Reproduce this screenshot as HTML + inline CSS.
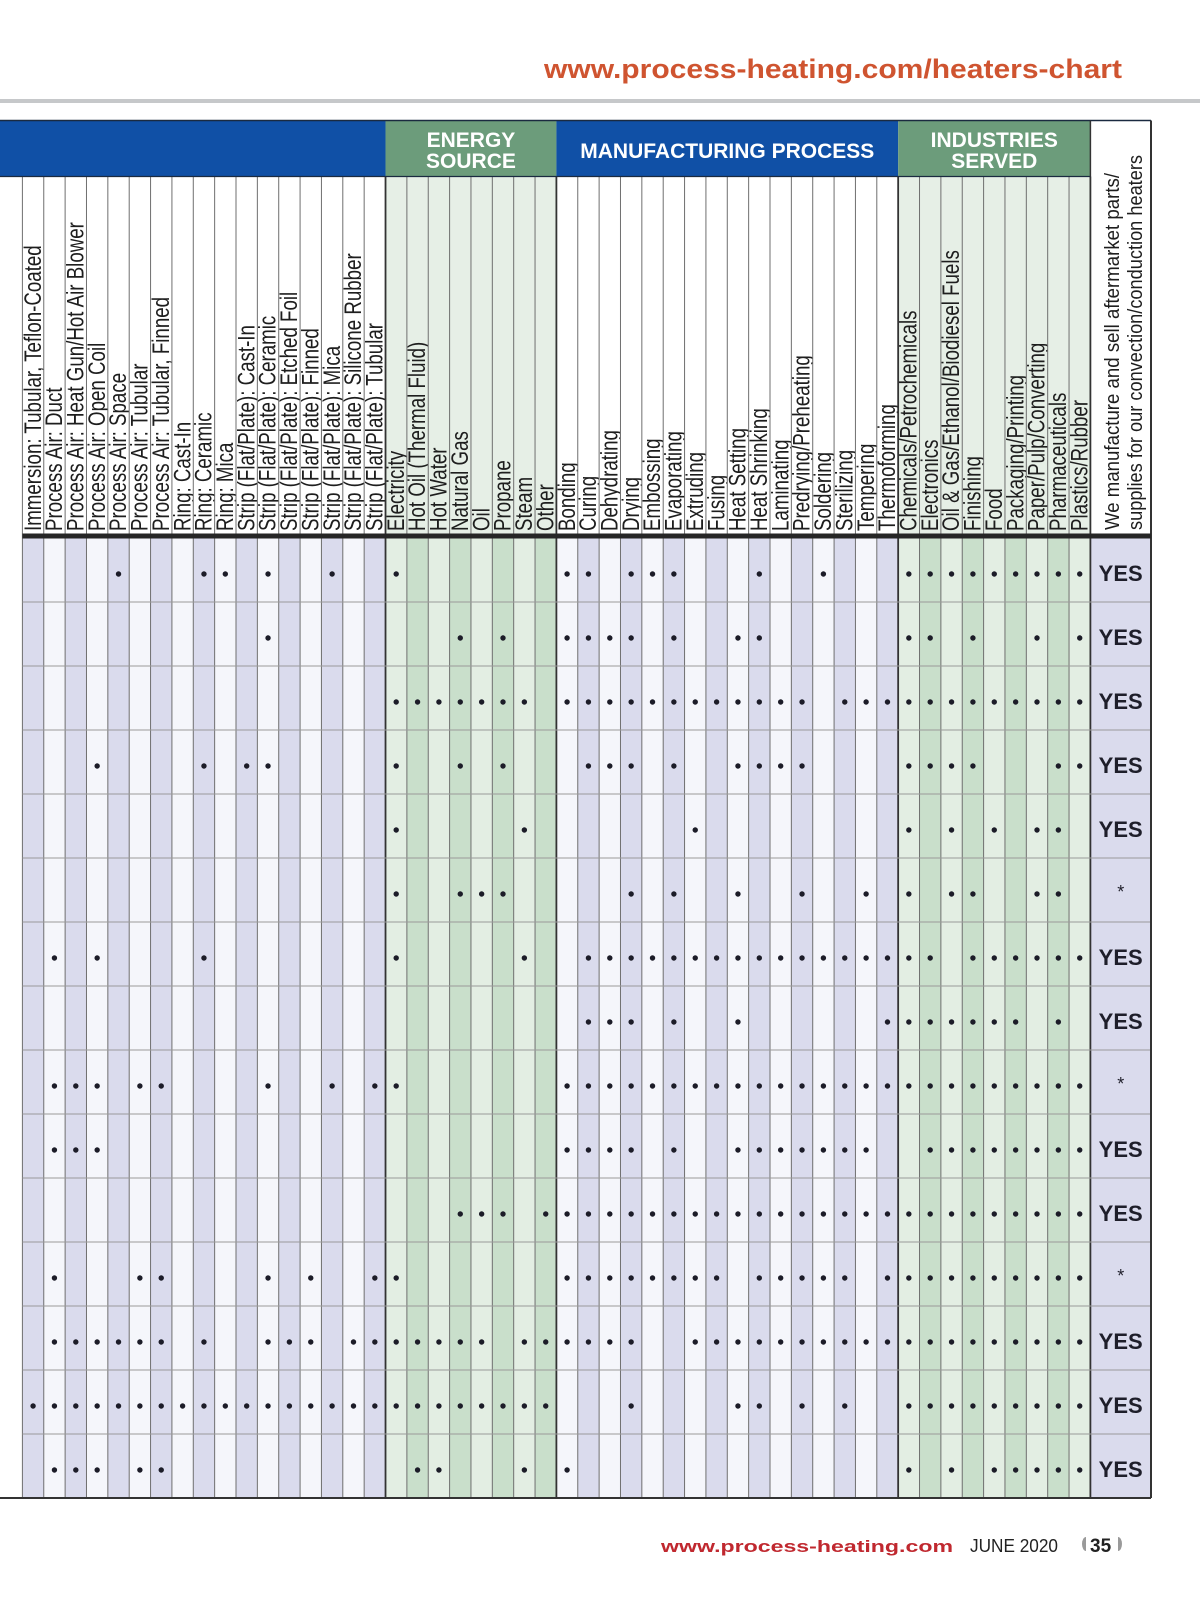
<!DOCTYPE html>
<html><head><meta charset="utf-8"><title>Heaters Chart</title>
<style>
html,body{margin:0;padding:0;background:#fff;}
body{width:1200px;height:1600px;overflow:hidden;position:relative;font-family:"Liberation Sans",sans-serif;}
svg{position:absolute;left:0;top:0;}
</style></head>
<body>
<svg id="chart" width="1200" height="1600" viewBox="0 0 1200 1600" xmlns="http://www.w3.org/2000/svg"></svg>
<script>
const heaterTypes = ["Immersion: Tubular, Teflon-Coated","Process Air: Duct","Process Air: Heat Gun/Hot Air Blower","Process Air: Open Coil","Process Air: Space","Process Air: Tubular","Process Air: Tubular, Finned","Ring: Cast-In","Ring: Ceramic","Ring: Mica","Strip (Flat/Plate): Cast-In","Strip (Flat/Plate): Ceramic","Strip (Flat/Plate): Etched Foil","Strip (Flat/Plate): Finned","Strip (Flat/Plate): Mica","Strip (Flat/Plate): Silicone Rubber","Strip (Flat/Plate): Tubular"];
const energySources = ["Electricity","Hot Oil (Thermal Fluid)","Hot Water","Natural Gas","Oil","Propane","Steam","Other"];
const processes = ["Bonding","Curing","Dehydrating","Drying","Embossing","Evaporating","Extruding","Fusing","Heat Setting","Heat Shrinking","Laminating","Predrying/Preheating","Soldering","Sterilizing","Tempering","Thermoforming"];
const industries = ["Chemicals/Petrochemicals","Electronics","Oil & Gas/Ethanol/Biodiesel Fuels","Finishing","Food","Packaging/Printing","Paper/Pulp/Converting","Pharmaceuticals","Plastics/Rubber"];
const heaterRows = [[4,8,9,11,14],[11],[],[3,8,10,11],[],[],[1,3,8],[],[1,2,3,5,6,11,14,16],[1,2,3],[],[1,5,6,11,13,16],[1,2,3,4,5,6,8,11,12,13,15,16],[0,1,2,3,4,5,6,7,8,9,10,11,12,13,14,15,16],[1,2,3,5,6]];
const energyRows = [[0],[3,5],[0,1,2,3,4,5,6],[0,3,5],[0,6],[0,3,4,5],[0,6],[],[0],[],[3,4,5,7],[0],[0,1,2,3,4,6,7],[0,1,2,3,4,5,6,7],[1,2,6]];
const processRows = [[0,1,3,4,5,9,12],[0,1,2,3,5,8,9],[0,1,2,3,4,5,6,7,8,9,10,11,13,14,15],[1,2,3,5,8,9,10,11],[6],[3,5,8,11,14],[1,2,3,4,5,6,7,8,9,10,11,12,13,14,15],[1,2,3,5,8,15],[0,1,2,3,4,5,6,7,8,9,10,11,12,13,14,15],[0,1,2,3,5,8,9,10,11,12,13,14],[0,1,2,3,4,5,6,7,8,9,10,11,12,13,14,15],[0,1,2,3,4,5,6,7,9,10,11,12,13,15],[0,1,2,3,6,7,8,9,10,11,12,13,14,15],[3,8,9,11,13],[0]];
const industryRows = [[0,1,2,3,4,5,6,7,8],[0,1,3,6,8],[0,1,2,3,4,5,6,7,8],[0,1,2,3,7,8],[0,2,4,6,7],[0,2,3,6,7],[0,1,3,4,5,6,7,8],[0,1,2,3,4,5,7],[0,1,2,3,4,5,6,7,8],[1,2,3,4,5,6,7,8],[0,1,2,3,4,5,6,7,8],[0,1,2,3,4,5,6,7,8],[0,1,2,3,4,5,6,7,8],[0,1,2,3,4,5,6,7,8],[0,2,4,5,6,7,8]];
const aftermarket = ["YES","YES","YES","YES","YES","*","YES","YES","*","YES","YES","*","YES","YES","YES"];

const NS="http://www.w3.org/2000/svg";
const svg=document.getElementById('chart');
function mk(tag,attrs,parent){const e=document.createElementNS(NS,tag);for(const k in attrs)e.setAttribute(k,attrs[k]);(parent||svg).appendChild(e);return e;}

const X0=22.4, CW=21.36, TOP=120.5, HB=176.5, LB=537, ROW0=538, RH=64;
const nRows=aftermarket.length;
const groups=[
 {labels:heaterTypes,rows:heaterRows,name:'heater-type',start:0,dataShade:['#dadbed','#f5f6fb'],labelBg:'#ffffff'},
 {labels:energySources,rows:energyRows,name:'energy-source',start:17,dataShade:['#e3eee3','#c9dfcb'],labelBg:'#e6efe6'},
 {labels:processes,rows:processRows,name:'process',start:25,dataShade:['#f5f6fb','#dadbed'],labelBg:'#ffffff'},
 {labels:industries,rows:industryRows,name:'industry',start:41,dataShade:['#e3eee3','#c9dfcb'],labelBg:'#e6efe6'}
];
const colX=i=>X0+i*CW;
const rowY=r=>ROW0+r*RH;
const lastL=colX(50), lastR=1151;

let t=mk('text',{x:1122,y:78,'text-anchor':'end','font-size':27,'font-weight':'bold',fill:'#cf5430','font-family':'Liberation Sans, sans-serif',textLength:578,lengthAdjust:'spacingAndGlyphs'});


t.textContent='www.process-heating.com/heaters-chart';
let r=mk('rect',{x:0,y:99,width:1200,height:4,fill:'#c6c8ca'});



const hdr=mk('g',{});


mk('rect',{x:0,y:TOP,width:colX(17),height:HB-TOP,fill:'#1050a6'},hdr);
mk('rect',{x:colX(17),y:TOP,width:8*CW,height:HB-TOP,fill:'#6c9c7b'},hdr);
mk('rect',{x:colX(25),y:TOP,width:16*CW,height:HB-TOP,fill:'#1050a6'},hdr);
mk('rect',{x:colX(41),y:TOP,width:9*CW,height:HB-TOP,fill:'#6c9c7b'},hdr);
function htxt(x,y,s,name,ls){const e=mk('text',{x:x,y:y,'text-anchor':'middle','font-size':21,'font-weight':'bold',fill:'#ffffff','letter-spacing':ls,'font-family':'Liberation Sans, sans-serif'},hdr);e.textContent=s;return e;}
htxt(colX(17)+4*CW,147,'ENERGY','energy-source-title',0);
htxt(colX(17)+4*CW,168,'SOURCE','energy-source-title-2',0);
htxt(colX(25)+8*CW,158,'MANUFACTURING PROCESS','manufacturing-process-title',0);
htxt(colX(41)+4.5*CW,147,'INDUSTRIES','industries-served-title',0);
htxt(colX(41)+4.5*CW,168,'SERVED','industries-served-title-2',0);

groups.forEach(g=>{
  const gg=mk('g',{});
  
  
  g.labels.forEach((lab,i)=>{
    const c=g.start+i, x=colX(c);
    mk('rect',{x:x,y:HB,width:CW,height:LB-HB,fill:g.labelBg},gg);
    mk('rect',{x:x,y:ROW0,width:CW,height:nRows*RH,fill:g.dataShade[i%2]},gg);
    const lt=mk('text',{transform:`translate(${x+CW-3},531) rotate(-90) scale(0.78,1)`,'font-size':24,fill:'#1e1e1e','font-family':'Liberation Sans, sans-serif'},gg);
    
    
    lt.textContent=lab;
  });
});
mk('rect',{x:lastL,y:TOP,width:lastR-lastL,height:LB-TOP,fill:'#ffffff'});
mk('rect',{x:lastL,y:ROW0,width:lastR-lastL,height:nRows*RH,fill:'#dadbed'});
let l1=mk('text',{transform:`translate(1119,530) rotate(-90)`,'font-size':20,fill:'#1e1e1e',textLength:357,lengthAdjust:'spacingAndGlyphs','font-family':'Liberation Sans, sans-serif'});


l1.textContent='We manufacture and sell aftermarket parts/';
let l2=mk('text',{transform:`translate(1142,530) rotate(-90)`,'font-size':20,fill:'#1e1e1e',textLength:375,lengthAdjust:'spacingAndGlyphs','font-family':'Liberation Sans, sans-serif'});


l2.textContent='supplies for our convection/conduction heaters';

const grid=mk('g',{});


for(let c=0;c<=50;c++){
  const x=colX(c);
  const major=(c===17||c===25||c===41||c===50);
  mk('line',{x1:x,y1:HB,x2:x,y2:rowY(nRows),stroke:major?'#333':'#6f6f6f','stroke-width':major?1.8:1},grid);
}
for(let rr=1;rr<nRows;rr++){
  mk('line',{x1:X0,y1:rowY(rr),x2:lastR,y2:rowY(rr),stroke:'#9a9a9a','stroke-width':1},grid);
}
mk('line',{x1:0,y1:TOP,x2:lastR,y2:TOP,stroke:'#1a2a40','stroke-width':1.5},grid);
mk('line',{x1:0,y1:HB,x2:lastL,y2:HB,stroke:'#1a2a40','stroke-width':1.2},grid);
mk('line',{x1:lastR,y1:TOP,x2:lastR,y2:rowY(nRows),stroke:'#333','stroke-width':2},grid);
mk('line',{x1:lastL,y1:TOP,x2:lastL,y2:HB,stroke:'#333','stroke-width':1.5},grid);
mk('rect',{x:X0,y:533.5,width:lastR-X0,height:5,fill:'#262626'},grid);
mk('line',{x1:0,y1:rowY(nRows),x2:lastR,y2:rowY(nRows),stroke:'#333','stroke-width':2},grid);

const dots=mk('g',{});


groups.forEach(g=>{
  g.rows.forEach((cols,ri)=>{
    cols.forEach(ci=>{
      const d=mk('circle',{cx:colX(g.start+ci)+CW/2,cy:rowY(ri)+RH/2+4,r:2.7,fill:'#1c1c28'},dots);
      
      
    });
  });
});
aftermarket.forEach((v,ri)=>{
  const star=v==='*';
  const e=mk('text',{x:(lastL+lastR)/2,y:rowY(ri)+RH/2+(star?8:11),'text-anchor':'middle','font-size':star?18:22,'font-weight':star?'normal':'bold',fill:'#1e1e2a','font-family':'Liberation Sans, sans-serif'});
  
  
  e.textContent=v;
});

let f1=mk('text',{x:661,y:1552,'font-size':17,'font-weight':'bold',fill:'#c0282f',textLength:292,lengthAdjust:'spacingAndGlyphs','font-family':'Liberation Sans, sans-serif'});


f1.textContent='www.process-heating.com';
let f2=mk('text',{x:970,y:1552,'font-size':18,fill:'#222',textLength:88,lengthAdjust:'spacingAndGlyphs','font-family':'Liberation Sans, sans-serif'});


f2.textContent='JUNE 2020';
let m1=mk('path',{d:'M1086,1537 A4,7 0 0 0 1086,1551 Z',fill:'#9a9a9a'});


let f3=mk('text',{x:1090,y:1552,'font-size':19,'font-weight':'bold',fill:'#222','font-family':'Liberation Sans, sans-serif'});


f3.textContent='35';
let m2=mk('path',{d:'M1118,1537 A4,7 0 0 1 1118,1551 Z',fill:'#9a9a9a'});


</script>
</body></html>
